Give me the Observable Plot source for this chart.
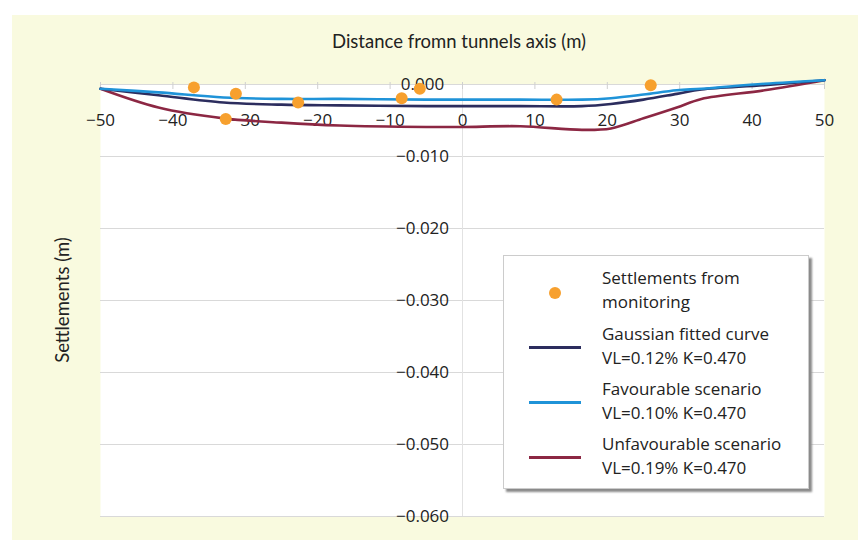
<!DOCTYPE html>
<html><head><meta charset="utf-8">
<script src="https://cdn.jsdelivr.net/npm/d3@7"></script>
<script src="https://cdn.jsdelivr.net/npm/@observablehq/plot@0.6"></script>
<style>
body{margin:0;background:#fff;}
#wrap{position:relative;width:858px;height:540px;overflow:hidden;background:#fff;}
#bg{position:absolute;left:12px;top:15px;right:0;bottom:0;background:#f9fadf;}
#chart{position:absolute;left:0;top:0;}
.title{position:absolute;font-family:Lato,sans-serif;font-size:18.5px;color:#222;white-space:nowrap;}
#xtitle{left:0;width:918px;text-align:center;top:30px;}
#ytitle{left:62px;top:300px;transform:translate(-50%,-50%) rotate(-90deg);}
#legend{position:absolute;left:503px;top:255px;width:304px;height:232px;background:#fff;border:1px solid #ccc;box-shadow:3px 3px 2px #8a8a8a;font-family:"Open Sans",sans-serif;font-size:17px;color:#222;}
.lt{position:absolute;left:98px;line-height:23.5px;white-space:nowrap;}
.sw{position:absolute;left:25px;width:52px;height:3px;}
.dot{position:absolute;left:45px;top:31px;width:12px;height:12px;border-radius:50%;}
</style>
</head><body>
<div id="wrap">
<div id="bg"></div>
<div id="chart"></div>
<div class="title" id="xtitle">Distance fromn tunnels axis (m)</div>
<div class="title" id="ytitle">Settlements (m)</div>
<div id="legend"></div>
</div>
<script>
// Curves (distance in m, settlement in m)
const curveX = [-50,-42,-33,-25,-17,-5,0,8,16.5,20.5,25,29.6,33,41.7,50];
const gaussian = [-0.0006,-0.0015,-0.0025,-0.0028,-0.0029,-0.0030,-0.0030,-0.0030,-0.0030,-0.0027,-0.0021,-0.0013,-0.0007,-0.0001,0.0006];
const favourable = [-0.0006,-0.0011,-0.0018,-0.0020,-0.0020,-0.0021,-0.0021,-0.0021,-0.0021,-0.0019,-0.0014,-0.0008,-0.0006,0.0001,0.0006];
const unfavourable = [-0.0006,-0.0032,-0.0047,-0.0053,-0.0057,-0.0059,-0.0059,-0.0058,-0.0063,-0.0061,-0.0047,-0.0032,-0.0020,-0.0008,0.0006];
// Monitoring points
const monX = [-37.1,-32.7,-31.3,-22.7,-8.4,-5.9,13.0,26.0];
const monY = [-0.0004,-0.0048,-0.0013,-0.0025,-0.0019,-0.0006,-0.0021,-0.0001];
// Ticks
const xTicks = [-50,-40,-30,-20,-10,0,10,20,30,40,50];
const yTicks = [0,-0.01,-0.02,-0.03,-0.04,-0.05,-0.06];
// Series
const seriesNames = ["Unfavourable scenario","Gaussian fitted curve","Favourable scenario"];
const seriesColors = ["#8c2743","#2c2d5e","#1f93d8"];
const seriesLabels = ["VL=0.19% K=0.470","VL=0.12% K=0.470","VL=0.10% K=0.470"];
const dotColor = "#f7a02e";

const seriesValues = [unfavourable, gaussian, favourable];
const lines = [];
seriesNames.forEach((n,i)=>curveX.forEach((x,j)=>lines.push({series:n,x,y:seriesValues[i][j]})));
const mon = monX.map((x,i)=>({x,y:monY[i]}));
const minus = s => s.replace("-","\u2212");

const chart = Plot.plot({
  width:858, height:540,
  marginLeft:100, marginRight:34, marginTop:84, marginBottom:24,
  x:{domain:[-50,50], axis:null},
  y:{domain:[-0.06,0], axis:null},
  color:{domain:seriesNames, range:seriesColors},
  style:{background:"transparent", overflow:"visible", fontFamily:"'Open Sans', sans-serif"},
  marks:[
    Plot.frame({fill:"white", stroke:null}),
    Plot.gridY(yTicks, {stroke:"#d9d9d9", strokeOpacity:1}),
    Plot.ruleX([0], {stroke:"#e2e2e2"}),
    Plot.axisX(xTicks, {anchor:"top", tickSize:7, dy:4, tickFormat:()=>"", label:null, stroke:"#cfcfcf"}),
    Plot.text(xTicks, {x:d=>d, y:0, dy:36, text:d=>minus(String(d)), fontSize:17, fill:"#222"}),
    Plot.text(yTicks, {x:0, y:d=>d, dx:-40, text:d=>d===0?"0.000":minus(d3.format(".3f")(d)), fontSize:17, fill:"#222"}),
    Plot.line(lines, {x:"x", y:"y", z:"series", stroke:"series", strokeWidth:2.6, curve:"catmull-rom"}),
    Plot.dot(mon, {x:"x", y:"y", r:6, fill:dotColor, stroke:null})
  ]
});
document.getElementById("chart").appendChild(chart);

// Legend
const lg = document.getElementById("legend");
lg.innerHTML = `<div class="dot" style="background:${dotColor}"></div>
<div class="lt" style="top:10px">Settlements from<br>monitoring</div>` +
[1,2,0].map((i,k)=>`<div class="sw" style="top:${90+k*55}px;background:${seriesColors[i]}"></div>
<div class="lt" style="top:${66+k*55}px">${seriesNames[i]}<br>${seriesLabels[i]}</div>`).join("");
</script>
</body></html>
